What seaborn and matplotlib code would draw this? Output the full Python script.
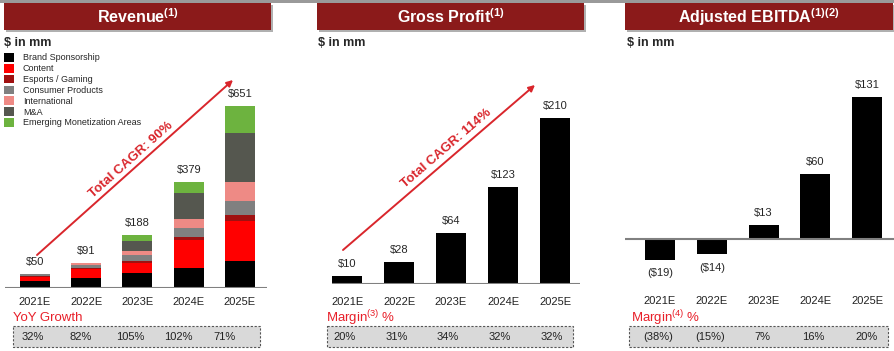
import numpy as np
import seaborn as sns
import matplotlib.pyplot as plt
from matplotlib.patches import Rectangle

years = ['2021E', '2022E', '2023E', '2024E', '2025E']

# revenue split ($mm), bottom to top
rev_segments = ['Brand Sponsorship', 'Content', 'Esports / Gaming', 'Consumer Products',
                'International', 'M&A', 'Emerging Monetization Areas']
brand = [24, 37, 52, 72, 95]
content = [17, 30, 39, 99, 146]
esports = [3, 5, 5, 10, 18]
consumer = [6, 11, 23, 35, 51]
international = [0, 5, 13, 30, 68]
mna = [0, 3, 37, 94, 177]
emerging = [0, 0, 19, 39, 96]
rev_total = [50, 91, 188, 379, 651]
yoy_growth = ['32%', '82%', '105%', '102%', '71%']

gross_profit = [10, 28, 64, 123, 210]
gp_margin = ['20%', '31%', '34%', '32%', '32%']

ebitda = [-19, -14, 13, 60, 131]
ebitda_margin = ['(38%)', '(15%)', '7%', '16%', '20%']

seg_colors = ['#000000', '#FF0000', '#A01010', '#808080', '#EE8A85', '#55574F', '#6DB33F']
HEADER = '#8B1A1A'
ARROW_RED = '#D9262C'
TXT_RED = '#E8202A'

W, H = 894, 351
sns.set_theme(style='white')
plt.rcParams['font.family'] = ['Liberation Sans', 'DejaVu Sans']
plt.rcParams['mathtext.default'] = 'regular'

fig = plt.figure(figsize=(W / 100, H / 100), dpi=100)
fig.patch.set_facecolor('white')

# overlay axes in pixel coordinates for all the decorations
bg = fig.add_axes([0, 0, 1, 1])
bg.set_xlim(0, W)
bg.set_ylim(H, 0)
bg.axis('off')


def px_axes(x0, y0, x1, y1):
    return fig.add_axes([x0 / W, 1 - y1 / H, (x1 - x0) / W, (y1 - y0) / H])


# thin grey rule along the top
bg.add_patch(Rectangle((0, 0), W, 2.5, color='#9a9a9a', lw=0))

headers = [(4, 271, 'Revenue$^{(1)}$'), (317, 584, 'Gross Profit$^{(1)}$'),
           (625, 893, 'Adjusted EBITDA$^{(1)(2)}$')]
for x0, x1, title in headers:
    bg.add_patch(Rectangle((x0 + 2, 5), x1 - x0, 27, color='#b0b0b0', lw=0))
    bg.add_patch(Rectangle((x0, 3), x1 - x0, 27, color=HEADER, lw=0))
    bg.text((x0 + x1) / 2, 17, title, color='white', fontsize=11.5, fontweight='bold',
            ha='center', va='center')

for x in [4, 318, 627]:
    bg.text(x, 43, '$ in mm', fontsize=9, fontweight='bold', ha='left', va='center')

# bottom red captions and dashed boxes
captions = [(13, 'YoY Growth'), (326, 'Margin$^{(3)}$ %'), (631, 'Margin$^{(4)}$ %')]
for x, cap in captions:
    bg.text(x, 318, cap, color=TXT_RED, fontsize=9.5, ha='left', va='center')

boxes = [(13, 260, yoy_growth, [33, 81, 130, 178, 225]),
         (327, 573, gp_margin, [345, 397, 448, 500, 552]),
         (629, 888, ebitda_margin, [658, 710, 762, 813, 867])]
for x0, x1, labels, xs in boxes:
    bg.add_patch(Rectangle((x0, 326), x1 - x0, 21, facecolor='#d9d9d9',
                           edgecolor='#555555', lw=0.8, ls=(0, (2, 1.5))))
    for xv, lab in zip(xs, labels):
        bg.text(xv, 337, lab, fontsize=8, color='#222222', ha='center', va='center')

# CAGR arrows
arrows = [((37, 255), (233, 80), (131, 160), 'Total CAGR: 90%'),
          ((343, 250), (535, 85), (446, 148), 'Total CAGR: 114%')]
for (sx, sy), (ex, ey), (tx, ty), lab in arrows:
    bg.annotate('', xy=(ex, ey), xytext=(sx, sy),
                arrowprops=dict(arrowstyle='-|>', color=ARROW_RED, lw=1.4,
                                mutation_scale=9, shrinkA=0, shrinkB=0))
    ang = np.degrees(np.arctan2(sy - ey, ex - sx))
    bg.text(tx, ty, lab, color=ARROW_RED, fontsize=9.5, fontweight='bold',
            rotation=ang, rotation_mode='anchor', ha='center', va='center')


def style_axes(ax, pad):
    ax.set_facecolor('none')
    sns.despine(ax=ax, left=True, bottom=True)
    ax.set_yticks([])
    ax.set_xlabel('')
    ax.set_ylabel('')
    ax.set_xticks(range(len(years)))
    ax.set_xticklabels(years, fontsize=8, color='#222222')
    ax.tick_params(axis='x', length=0, pad=pad)
    ax.axhline(0, color='#808080', lw=1.5, zorder=5)


# ---- Revenue stacked bars ----
ax1 = px_axes(5, 50, 267, 288)
seg_data = [brand, content, esports, consumer, international, mna, emerging]
cum = np.cumsum(np.array(seg_data), axis=0)
for i in range(len(rev_segments) - 1, -1, -1):
    sns.barplot(x=years, y=cum[i], color=seg_colors[i], width=0.585, ax=ax1,
                label=rev_segments[i], saturation=1, linewidth=0)
ax1.set_xlim(-0.585, 4.527)
ax1.set_ylim(0, 238 / 0.28)
for i, v in enumerate(rev_total):
    ax1.annotate(f'${v}', (i, v), xytext=(0, 5), textcoords='offset points',
                 ha='center', va='bottom', fontsize=8)
style_axes(ax1, 6.5)
h, l = ax1.get_legend_handles_labels()
ax1.legend(h[::-1], l[::-1], loc='upper left', bbox_to_anchor=(4 / W, 1 - 53 / H),
           bbox_transform=fig.transFigure, frameon=False, fontsize=6.5,
           handlelength=1.1, handleheight=1.1, handletextpad=1.0, labelspacing=0.16,
           borderpad=0, borderaxespad=0)

# ---- Gross profit ----
ax2 = px_axes(332, 50, 580, 284)
sns.barplot(x=years, y=gross_profit, color='black', width=0.577, ax=ax2,
            saturation=1, linewidth=0)
ax2.set_xlim(-0.29, 4.48)
ax2.set_ylim(0, 234 / 0.79)
for i, v in enumerate(gross_profit):
    ax2.annotate(f'${v}', (i, v), xytext=(0, 5), textcoords='offset points',
                 ha='center', va='bottom', fontsize=8)
style_axes(ax2, 9.4)

# ---- Adjusted EBITDA ----
ax3 = px_axes(625, 50, 894, 287)
sns.barplot(x=years, y=ebitda, color='black', width=0.58, ax=ax3,
            saturation=1, linewidth=0)
ax3.set_xlim(-0.676, 4.52)
ax3.set_ylim(-(287 - 239) / 1.084, (239 - 50) / 1.084)
for i, v in enumerate(ebitda):
    if v >= 0:
        ax3.annotate(f'${v}', (i, v), xytext=(0, 5), textcoords='offset points',
                     ha='center', va='bottom', fontsize=8)
    else:
        ax3.annotate(f'(${-v})', (i, v), xytext=(0, -6), textcoords='offset points',
                     ha='center', va='top', fontsize=8)
style_axes(ax3, 6.5)

fig.savefig('out.png', dpi=100)
